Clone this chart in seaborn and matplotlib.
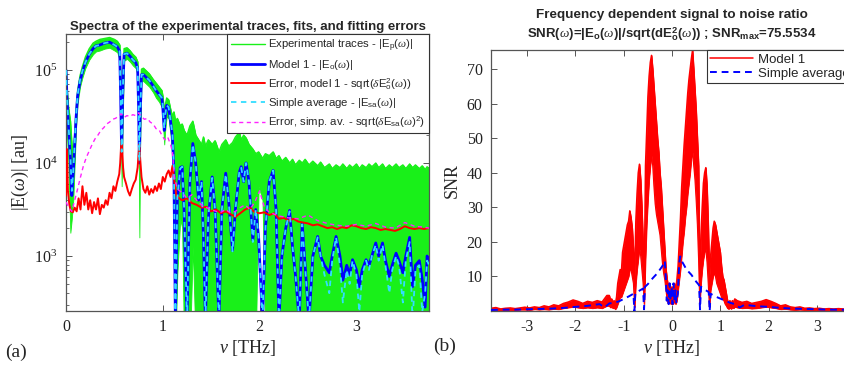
import numpy as np
import pandas as pd
import matplotlib
matplotlib.use("Agg")
import matplotlib.pyplot as plt
import seaborn as sns

# ---------------- data: panel (a)  (log10 of |E| in au) ----------------
nu_left = [0.000, 0.010, 0.025, 0.045, 0.060, 0.075, 0.090, 0.105, 0.120, 0.145,
           0.170, 0.200, 0.240, 0.280, 0.310, 0.350, 0.400, 0.450, 0.500, 0.530,
           0.555, 0.565, 0.575, 0.585, 0.600, 0.630, 0.660, 0.690, 0.720, 0.740,
           0.750, 0.758, 0.766, 0.780, 0.800, 0.830, 0.860, 0.900, 0.930, 0.960,
           0.990, 1.000, 1.015, 1.025, 1.040, 1.060, 1.080, 1.100, 1.115, 1.130,
           1.150, 1.180, 1.200, 1.220, 1.250, 1.280, 1.310, 1.340, 1.370, 1.400,
           1.420, 1.440, 1.470, 1.510, 1.540, 1.580, 1.610, 1.650, 1.680, 1.720,
           1.750, 1.790, 1.810, 1.835, 1.860, 1.890, 1.930, 1.960, 1.990, 2.030,
           2.060, 2.100, 2.140, 2.170, 2.200, 2.230, 2.270, 2.310, 2.340, 2.370,
           2.410, 2.440, 2.470, 2.510, 2.550, 2.600, 2.630, 2.670, 2.720, 2.750,
           2.790, 2.830, 2.860, 2.900, 2.930, 2.960, 3.000, 3.030, 3.060, 3.100,
           3.130, 3.160, 3.200, 3.230, 3.270, 3.300, 3.340, 3.370, 3.410, 3.440,
           3.480, 3.510, 3.550, 3.580, 3.610, 3.650, 3.680, 3.710, 3.730, 3.750]

model1_log = [5.00, 4.70, 4.40, 4.05, 3.65, 3.90, 4.20, 4.50, 4.72, 4.88,
              4.98, 5.08, 5.17, 5.23, 5.26, 5.27, 5.29, 5.30, 5.27, 5.25,
              5.20, 4.70, 4.10, 4.70, 5.17, 5.18, 5.15, 5.11, 5.08, 5.02,
              4.60, 4.00, 4.50, 4.95, 4.95, 4.92, 4.89, 4.83, 4.78, 4.74,
              4.70, 4.60, 4.35, 4.50, 4.62, 4.60, 4.45, 4.28, 3.90, 2.30,
              3.60, 3.95, 3.96, 3.50, 2.30, 3.80, 4.21, 4.00, 3.60, 3.80,
              3.20, 2.30, 3.40, 3.85, 3.50, 2.30, 3.50, 3.89, 3.60, 3.06,
              3.50, 3.90, 3.96, 3.80, 4.00, 3.80, 3.17, 3.50, 3.20, 2.30,
              3.30, 3.80, 3.92, 3.50, 2.30, 3.00, 3.30, 3.49, 3.10, 2.80,
              2.30, 3.35, 2.90, 2.30, 3.00, 3.21, 3.00, 2.90, 2.82, 3.00,
              3.21, 3.00, 2.74, 2.90, 2.80, 2.96, 2.85, 2.67, 2.85, 2.96,
              2.90, 3.00, 3.14, 3.00, 3.14, 2.95, 2.78, 2.90, 3.03, 2.95,
              2.82, 3.00, 3.20, 2.67, 2.90, 2.95, 2.75, 2.45, 3.00, 2.95]

simple_avg_log = [5.00, 4.72, 4.42, 4.08, 3.70, 3.92, 4.22, 4.52, 4.73, 4.89,
                  4.99, 5.08, 5.17, 5.23, 5.26, 5.27, 5.29, 5.30, 5.27, 5.25,
                  5.20, 4.72, 4.12, 4.72, 5.17, 5.18, 5.15, 5.11, 5.08, 5.02,
                  4.62, 4.02, 4.52, 4.95, 4.95, 4.92, 4.89, 4.83, 4.78, 4.74,
                  4.70, 4.62, 4.37, 4.52, 4.62, 4.60, 4.46, 4.30, 3.92, 2.30,
                  3.62, 3.94, 3.96, 3.52, 2.30, 3.80, 4.20, 4.00, 3.62, 3.80,
                  3.20, 2.30, 3.42, 3.84, 3.50, 2.30, 3.50, 3.88, 3.60, 3.05,
                  3.50, 3.90, 3.95, 3.80, 4.00, 3.80, 3.15, 3.50, 3.20, 2.30,
                  3.30, 3.80, 3.92, 3.50, 2.30, 3.00, 3.30, 3.48, 3.10, 2.80,
                  2.30, 3.34, 2.90, 2.30, 3.00, 3.20, 3.00, 2.80, 2.60, 2.95,
                  3.20, 2.90, 2.50, 2.85, 2.70, 2.95, 2.80, 2.40, 2.80, 2.95,
                  2.85, 3.00, 3.12, 2.95, 3.12, 2.90, 2.60, 2.85, 3.00, 2.90,
                  2.50, 2.95, 3.15, 2.30, 2.85, 2.90, 2.40, 2.60, 2.95, 2.90]

exp_upper_log = [5.05, 4.80, 4.60, 4.45, 4.20, 4.10, 4.30, 4.58, 4.78, 4.94,
                 5.04, 5.14, 5.23, 5.29, 5.31, 5.33, 5.34, 5.35, 5.33, 5.31,
                 5.27, 4.90, 4.30, 4.90, 5.23, 5.24, 5.21, 5.17, 5.14, 5.09,
                 4.80, 4.20, 4.70, 5.01, 5.02, 4.99, 4.96, 4.90, 4.86, 4.82,
                 4.78, 4.72, 4.55, 4.62, 4.70, 4.68, 4.58, 4.50, 4.55, 4.45,
                 4.48, 4.40, 4.42, 4.35, 4.30, 4.40, 4.45, 4.30, 4.25, 4.20,
                 4.28, 4.18, 4.25, 4.20, 4.24, 4.12, 4.20, 4.25, 4.18, 4.22,
                 4.28, 4.33, 4.25, 4.30, 4.27, 4.20, 4.15, 4.10, 4.12, 4.05,
                 4.10, 4.08, 4.12, 4.05, 4.08, 4.02, 4.06, 4.00, 4.04, 3.98,
                 4.03, 4.00, 4.04, 3.98, 4.02, 3.97, 4.01, 3.95, 3.99, 3.94,
                 3.98, 3.95, 3.99, 3.94, 3.98, 3.95, 3.99, 3.94, 3.98, 3.95,
                 3.99, 3.96, 4.00, 3.95, 3.99, 3.94, 3.98, 3.95, 3.99, 3.95,
                 3.98, 3.94, 3.99, 3.95, 3.98, 3.94, 3.97, 3.93, 3.96, 3.94]

exp_lower_log = [4.60, 4.30, 4.00, 3.25, 3.40, 3.60, 4.00, 4.40, 4.64, 4.82,
                 4.92, 5.02, 5.11, 5.17, 5.20, 5.21, 5.23, 5.24, 5.21, 5.19,
                 5.10, 4.40, 3.75, 4.40, 5.10, 5.12, 5.09, 5.05, 5.02, 4.94,
                 4.30, 3.20, 4.20, 4.88, 4.88, 4.85, 4.82, 4.76, 4.70, 4.66,
                 4.60, 4.45, 4.20, 4.35, 4.50, 4.48, 4.30, 4.05, 3.20, 2.00,
                 2.80, 3.40, 3.30, 2.00, 2.00, 2.00, 3.10, 2.00, 2.00, 2.00,
                 2.00, 2.00, 2.00, 2.00, 2.00, 2.00, 2.00, 2.00, 2.00, 2.00,
                 2.00, 2.00, 2.00, 2.00, 2.00, 2.00, 2.00, 2.00, 3.75, 3.60,
                 2.00, 2.00, 2.00, 2.00, 2.00, 2.00, 2.00, 2.00, 2.00, 2.00,
                 2.00, 2.00, 2.00, 2.00, 2.00, 2.00, 2.00, 2.00, 2.00, 2.00,
                 2.00, 2.00, 2.00, 2.00, 2.00, 2.00, 2.00, 2.00, 2.00, 2.00,
                 2.00, 2.00, 2.00, 2.00, 2.00, 2.00, 2.00, 2.00, 2.00, 2.00,
                 2.00, 2.00, 2.00, 2.00, 2.00, 2.00, 2.00, 2.00, 2.00, 2.00]

nu_err1 = [0.0, 0.01, 0.02, 0.035, 0.05, 0.07, 0.09, 0.11, 0.13, 0.15,
           0.17, 0.19, 0.21, 0.23, 0.25, 0.27, 0.29, 0.31, 0.33, 0.35,
           0.37, 0.39, 0.41, 0.43, 0.45, 0.47, 0.49, 0.51, 0.53, 0.55,
           0.56, 0.57, 0.575, 0.58, 0.59, 0.6, 0.62, 0.64, 0.66, 0.68,
           0.7, 0.72, 0.74, 0.75, 0.758, 0.766, 0.78, 0.8, 0.82, 0.84,
           0.86, 0.88, 0.9, 0.92, 0.94, 0.96, 0.98, 1.0, 1.02, 1.04,
           1.06, 1.08, 1.1, 1.12, 1.14, 1.17, 1.2, 1.25, 1.3, 1.35,
           1.4, 1.45, 1.5, 1.55, 1.6, 1.65, 1.7, 1.75, 1.8, 1.85,
           1.9, 1.95, 2.0, 2.05, 2.1, 2.15, 2.2, 2.25, 2.3, 2.35,
           2.4, 2.45, 2.5, 2.55, 2.6, 2.65, 2.7, 2.75, 2.8, 2.85,
           2.9, 2.95, 3.0, 3.05, 3.1, 3.15, 3.2, 3.25, 3.3, 3.35,
           3.4, 3.45, 3.5, 3.55, 3.6, 3.65, 3.7, 3.75]
err1_log = [3.65, 4.15, 3.70, 3.55, 3.48, 3.47, 3.52, 3.48, 3.62, 3.50,
            3.75, 3.55, 3.68, 3.50, 3.60, 3.46, 3.58, 3.50, 3.62, 3.45,
            3.55, 3.52, 3.60, 3.55, 3.68, 3.62, 3.75, 3.70, 3.80, 3.88,
            4.00, 4.20, 4.25, 4.15, 3.95, 3.85, 3.78, 3.70, 3.65, 3.72,
            3.78, 3.82, 3.95, 4.10, 4.20, 4.05, 3.85, 3.72, 3.68, 3.75,
            3.66, 3.72, 3.68, 3.75, 3.70, 3.78, 3.72, 3.85, 3.80, 3.88,
            3.92, 3.85, 3.97, 3.80, 3.65, 3.62, 3.60, 3.62, 3.57, 3.55,
            3.52, 3.53, 3.48, 3.50, 3.46, 3.48, 3.45, 3.42, 3.46, 3.50,
            3.52, 3.47, 3.46, 3.47, 3.44, 3.46, 3.40, 3.41, 3.38, 3.40,
            3.37, 3.36, 3.35, 3.33, 3.34, 3.32, 3.30, 3.31, 3.29, 3.31,
            3.30, 3.33, 3.32, 3.30, 3.29, 3.31, 3.30, 3.28, 3.29, 3.28,
            3.27, 3.29, 3.32, 3.30, 3.29, 3.30, 3.29, 3.30]

nu_errsa = [0.0, 0.03, 0.06, 0.09, 0.12, 0.15, 0.18, 0.21, 0.24, 0.27,
            0.3, 0.33, 0.36, 0.39, 0.42, 0.45, 0.48, 0.51, 0.54, 0.57,
            0.6, 0.63, 0.66, 0.69, 0.72, 0.75, 0.78, 0.81, 0.84, 0.87,
            0.9, 0.93, 0.96, 0.99, 1.02, 1.05, 1.08, 1.1, 1.12, 1.15,
            1.2, 1.25, 1.3, 1.35, 1.4, 1.45, 1.5, 1.55, 1.6, 1.65,
            1.7, 1.75, 1.8, 1.85, 1.9, 1.95, 2.0, 2.05, 2.1, 2.2,
            2.3, 2.4, 2.5, 2.6, 2.7, 2.8, 2.9, 3.0, 3.1, 3.2,
            3.3, 3.4, 3.5, 3.6, 3.7, 3.75]
errsa_log = [3.58, 3.52, 3.48, 3.60, 3.72, 3.85, 3.97, 4.06, 4.13, 4.20,
             4.26, 4.30, 4.35, 4.38, 4.42, 4.44, 4.47, 4.48, 4.50, 4.53,
             4.49, 4.51, 4.50, 4.52, 4.51, 4.54, 4.50, 4.47, 4.48, 4.44,
             4.42, 4.37, 4.36, 4.30, 4.25, 4.28, 4.20, 4.12, 3.85, 3.72,
             3.68, 3.62, 3.66, 3.60, 3.55, 3.52, 3.50, 3.48, 3.47, 3.50,
             3.46, 3.48, 3.52, 3.55, 3.50, 3.58, 3.70, 3.52, 3.47, 3.43,
             3.41, 3.40, 3.44, 3.38, 3.35, 3.33, 3.32, 3.34, 3.32, 3.35,
             3.31, 3.30, 3.36, 3.32, 3.31, 3.30]

# ---------------- data: panel (b)  SNR ----------------
nu_snr = np.round(np.r_[np.arange(-3.75, -1.3, 0.1),
                        np.linspace(-1.3, 1.3, 105),
                        np.arange(1.35, 3.76, 0.1)], 3)
snr_m1_hi = [0.8, 1.0, 0.6, 0.8, 0.9, 0.7, 0.9, 1.1, 0.9, 1.2,
             1.0, 1.5, 1.2, 1.8, 1.5, 2.2, 2.6, 3.2, 2.8, 2.2,
             2.8, 2.5, 3.0, 2.6, 4.5,
             4.5, 3.0, 3.5, 2.5, 3.0, 2.0, 4.0, 8.0, 10.0, 12.0,
             11.0, 17.0, 19.0, 21.0, 23.0, 25.0, 26.0, 29.0, 27.0, 24.0,
             18.0, 10.0, 26.0, 34.0, 40.0, 42.5, 38.0, 30.0, 20.0, 8.0,
             42.0, 52.0, 62.0, 68.0, 72.0, 74.0, 70.0, 65.0, 60.0, 55.0,
             50.0, 46.0, 40.0, 36.0, 30.0, 24.0, 18.0, 12.0, 9.0, 7.0,
             8.0, 6.0, 7.0, 6.0, 8.0, 6.0, 9.0, 13.0, 20.0, 27.0,
             36.0, 42.0, 48.0, 53.0, 58.0, 63.0, 67.0, 70.0, 73.0, 75.5,
             70.0, 64.0, 58.0, 50.0, 42.0, 8.0, 22.0, 30.0, 37.0, 40.0,
             41.5, 36.0, 25.0, 10.0, 16.0, 20.0, 24.0, 26.0, 25.0, 23.0,
             21.0, 19.0, 17.0, 13.0, 10.0, 9.0, 7.0, 5.0, 3.0, 2.5,
             3.0, 2.0, 3.0, 2.5, 3.5,
             3.0, 2.5, 2.8, 2.2, 2.5, 2.8, 3.3, 2.8, 2.2, 1.5,
             1.8, 1.2, 1.0, 1.2, 0.8, 0.9, 0.7, 0.8, 0.6, 0.7,
             0.6, 0.7, 0.6, 0.7, 0.6]
snr_m1_lo = [0.3, 0.4, 0.2, 0.3, 0.3, 0.2, 0.4, 0.4, 0.3, 0.5,
             0.4, 0.5, 0.4, 0.6, 0.5, 0.8, 1.0, 1.2, 1.0, 0.8,
             1.0, 0.8, 1.0, 0.8, 1.5,
             1.5, 1.0, 1.2, 0.8, 1.0, 0.5, 1.0, 2.0, 3.0, 4.0,
             4.0, 5.0, 6.0, 7.0, 8.0, 9.0, 10.0, 12.0, 12.0, 10.0,
             8.0, 1.0, 8.0, 12.0, 15.0, 18.0, 16.0, 12.0, 8.0, 2.0,
             15.0, 25.0, 32.0, 38.0, 42.0, 45.0, 42.0, 36.0, 31.0, 28.0,
             26.0, 24.0, 22.0, 18.0, 14.0, 11.0, 9.0, 6.0, 3.0, 2.0,
             3.0, 2.0, 2.5, 2.0, 3.0, 2.0, 3.0, 6.0, 9.0, 12.0,
             16.0, 20.0, 23.0, 27.0, 30.0, 34.0, 37.0, 40.0, 44.0, 46.0,
             42.0, 38.0, 32.0, 25.0, 15.0, 2.0, 8.0, 12.0, 15.0, 17.0,
             18.0, 14.0, 8.0, 1.0, 6.0, 8.0, 10.0, 11.0, 10.0, 8.0,
             7.0, 6.0, 5.0, 4.0, 3.5, 3.0, 2.0, 1.5, 0.8, 0.6,
             1.0, 0.6, 1.0, 0.8, 1.2,
             1.0, 0.8, 0.9, 0.7, 0.8, 1.0, 1.2, 1.0, 0.8, 0.5,
             0.6, 0.4, 0.3, 0.4, 0.3, 0.3, 0.2, 0.3, 0.2, 0.3,
             0.2, 0.3, 0.2, 0.3, 0.2]

nu_sa_snr = [-3.75, -3.5, -3.25, -3.0, -2.75, -2.5, -2.25, -2.0, -1.75, -1.5,
             -1.4, -1.3, -1.2, -1.1, -1.0, -0.9, -0.8, -0.78, -0.76, -0.7,
             -0.6, -0.58, -0.56, -0.5, -0.4, -0.3, -0.2, -0.15, -0.13, -0.11,
             -0.09, -0.07, -0.05, -0.03, -0.01, 0.01, 0.03, 0.05, 0.07, 0.09,
             0.12, 0.15, 0.17, 0.2, 0.3, 0.4, 0.5, 0.56, 0.58, 0.6,
             0.7, 0.76, 0.78, 0.8, 0.9, 1.0, 1.1, 1.2, 1.3, 1.4,
             1.5, 1.75, 2.0, 2.25, 2.5, 2.75, 3.0, 3.25, 3.5, 3.75]
snr_sa = [0.3, 0.4, 0.4, 0.5, 0.6, 0.7, 0.9, 1.2, 1.5, 2.0,
          1.0, 2.2, 2.4, 2.8, 3.5, 4.2, 5.0, 0.0, 5.2, 5.7,
          6.5, 0.5, 7.0, 7.8, 9.5, 11.0, 13.0, 14.5, 10.0, 3.0,
          6.0, 2.0, 8.0, 3.0, 7.0, 2.0, 8.0, 3.0, 6.0, 2.5,
          5.0, 14.0, 15.8, 14.5, 12.0, 10.5, 8.5, 7.5, 0.5, 7.0,
          6.0, 5.5, 0.0, 5.0, 4.2, 3.6, 3.0, 2.4, 2.0, 1.0,
          1.8, 1.4, 1.2, 0.9, 0.7, 0.6, 0.5, 0.4, 0.4, 0.3]

snr_max = 75.5534

# ---------------- tables ----------------
df_left = pd.DataFrame({"nu": nu_left,
                        "model1": np.power(10.0, model1_log),
                        "simple": np.power(10.0, simple_avg_log),
                        "exp_hi": np.power(10.0, exp_upper_log),
                        "exp_lo": np.power(10.0, exp_lower_log)})
df_err1 = pd.DataFrame({"nu": nu_err1, "err": np.power(10.0, err1_log)})
df_errsa = pd.DataFrame({"nu": nu_errsa, "err": np.power(10.0, errsa_log)})
df_snr = pd.DataFrame({"nu": nu_snr, "hi": snr_m1_hi, "lo": snr_m1_lo})
df_sa = pd.DataFrame({"nu": nu_sa_snr, "snr": snr_sa})

# ---------------- style ----------------
sns.set_theme(style="ticks")
plt.rcParams["font.family"] = ["Liberation Sans", "DejaVu Sans"]
plt.rcParams["mathtext.fontset"] = "custom"
plt.rcParams["mathtext.rm"] = "Liberation Serif"
plt.rcParams["mathtext.it"] = "Liberation Serif:italic"
plt.rcParams["mathtext.bf"] = "Liberation Serif:bold"
plt.rcParams["axes.unicode_minus"] = False

SERIF = ["Liberation Serif", "DejaVu Serif"]
GREEN = "#19f019"
BLUE = "#0000ff"
CYAN = "#33ddff"
RED = "#ff0000"
MAG = "#ff22ff"
SPINE = "#555555"

fig = plt.figure(figsize=(8.45, 3.65), dpi=100)
axA = fig.add_axes([0.0781, 0.1479, 0.4296, 0.7589])
axB = fig.add_axes([0.5811, 0.1479, 0.4284, 0.7151])

# ---------------- panel (a) ----------------
axA.fill_between(df_left["nu"], df_left["exp_lo"], df_left["exp_hi"],
                 color=GREEN, lw=0.6, zorder=1)
sns.lineplot(data=df_left, x="nu", y="exp_hi", ax=axA, color=GREEN, lw=1.0,
             label=r"Experimental traces - |E$_\mathregular{p}$($\omega$)|", zorder=1)
sns.lineplot(data=df_left, x="nu", y="model1", ax=axA, color=BLUE, lw=2.0,
             label=r"Model 1 - |E$_\mathregular{o}$($\omega$)|", zorder=2)
sns.lineplot(data=df_err1, x="nu", y="err", ax=axA, color=RED, lw=1.4,
             label=r"Error, model 1 - sqrt($\delta$E$^\mathregular{2}_\mathregular{o}$($\omega$))", zorder=3)
sns.lineplot(data=df_left, x="nu", y="simple", ax=axA, color=CYAN, lw=1.3,
             linestyle=(0, (3, 2.5)),
             label=r"Simple average - |E$_\mathregular{sa}$($\omega$)|", zorder=4)
sns.lineplot(data=df_errsa, x="nu", y="err", ax=axA, color=MAG, lw=1.0,
             linestyle=(0, (3, 2.5)),
             label=r"Error, simp. av. - sqrt($\delta$E$_\mathregular{sa}$($\omega$)$^\mathregular{2}$)", zorder=4)

axA.set_yscale("log")
axA.set_xlim(0, 3.75)
axA.set_ylim(256, 2.44e5)
axA.set_xticks([0, 1, 2, 3])
axA.set_xlabel(r"$\nu$ [THz]", fontsize=13, family=SERIF, labelpad=2)
axA.set_ylabel(r"|E($\omega$)| [au]", fontsize=13, family=SERIF, labelpad=2)
axA.set_title("Spectra of the experimental traces, fits, and fitting errors",
              fontsize=9.5, fontweight="bold", pad=3)
legA = axA.legend(loc="upper right", bbox_to_anchor=(1.0, 1.0), borderaxespad=0,
                  fontsize=8.2, frameon=True, fancybox=False, framealpha=1,
                  edgecolor="#333333", handlelength=3.0, labelspacing=0.38,
                  handletextpad=0.3, borderpad=0.3)
legA.get_frame().set_linewidth(0.8)

# ---------------- panel (b) ----------------
axB.fill_between(df_snr["nu"], df_snr["lo"], df_snr["hi"], color=RED, lw=0.6, zorder=1)
sns.lineplot(data=df_snr, x="nu", y="hi", ax=axB, color=RED, lw=1.1,
             label="Model 1", zorder=2)
sns.lineplot(data=df_snr, x="nu", y="lo", ax=axB, color=RED, lw=0.8, zorder=2)
sns.lineplot(data=df_sa, x="nu", y="snr", ax=axB, color=BLUE, lw=1.4,
             linestyle=(0, (3.5, 2.5)), label="Simple average", zorder=3)

axB.set_xlim(-3.75, 3.75)
axB.set_ylim(0, snr_max)
axB.set_xticks([-3, -2, -1, 0, 1, 2, 3])
axB.set_yticks([10, 20, 30, 40, 50, 60, 70])
axB.set_xlabel(r"$\nu$ [THz]", fontsize=13, family=SERIF, labelpad=2)
axB.set_ylabel("SNR", fontsize=13, family=SERIF, labelpad=4)
legB = axB.legend(loc="upper right", bbox_to_anchor=(1.0, 1.0), borderaxespad=0,
                  fontsize=9.5, frameon=True, fancybox=False, framealpha=1,
                  edgecolor="#333333", handlelength=3.2, labelspacing=0.15,
                  handletextpad=0.4, borderpad=0.25)
legB.get_frame().set_linewidth(0.8)

fig.text(672 / 845, 1 - 15 / 365, "Frequency dependent signal to noise ratio",
         ha="center", va="center", fontsize=9.7, fontweight="bold")
fig.text(672 / 845, 1 - 34 / 365,
         r"SNR($\omega$)=|E$_\mathregular{o}$($\omega$)|/sqrt(dE$^\mathregular{2}_\mathregular{o}$($\omega$)) ; SNR$_\mathregular{max}$=75.5534",
         ha="center", va="center", fontsize=9.5, fontweight="bold")

for ax in (axA, axB):
    for s in ax.spines.values():
        s.set_color(SPINE)
        s.set_linewidth(0.9)
    ax.tick_params(which="both", direction="in", top=True, right=True,
                   color=SPINE, labelcolor="#222222")
    ax.tick_params(which="major", length=4, width=0.7, labelsize=11.5, pad=6)
    ax.tick_params(which="minor", length=2, width=0.6)
    for lab in ax.get_xticklabels() + ax.get_yticklabels():
        lab.set_fontfamily(SERIF)
axB.minorticks_off()

fig.text(5 / 845, 1 - 352 / 365, "(a)", fontsize=14, family=SERIF, va="center")
fig.text(433 / 845, 1 - 346 / 365, "(b)", fontsize=14, family=SERIF, va="center")

fig.savefig("out.png", dpi=100)
